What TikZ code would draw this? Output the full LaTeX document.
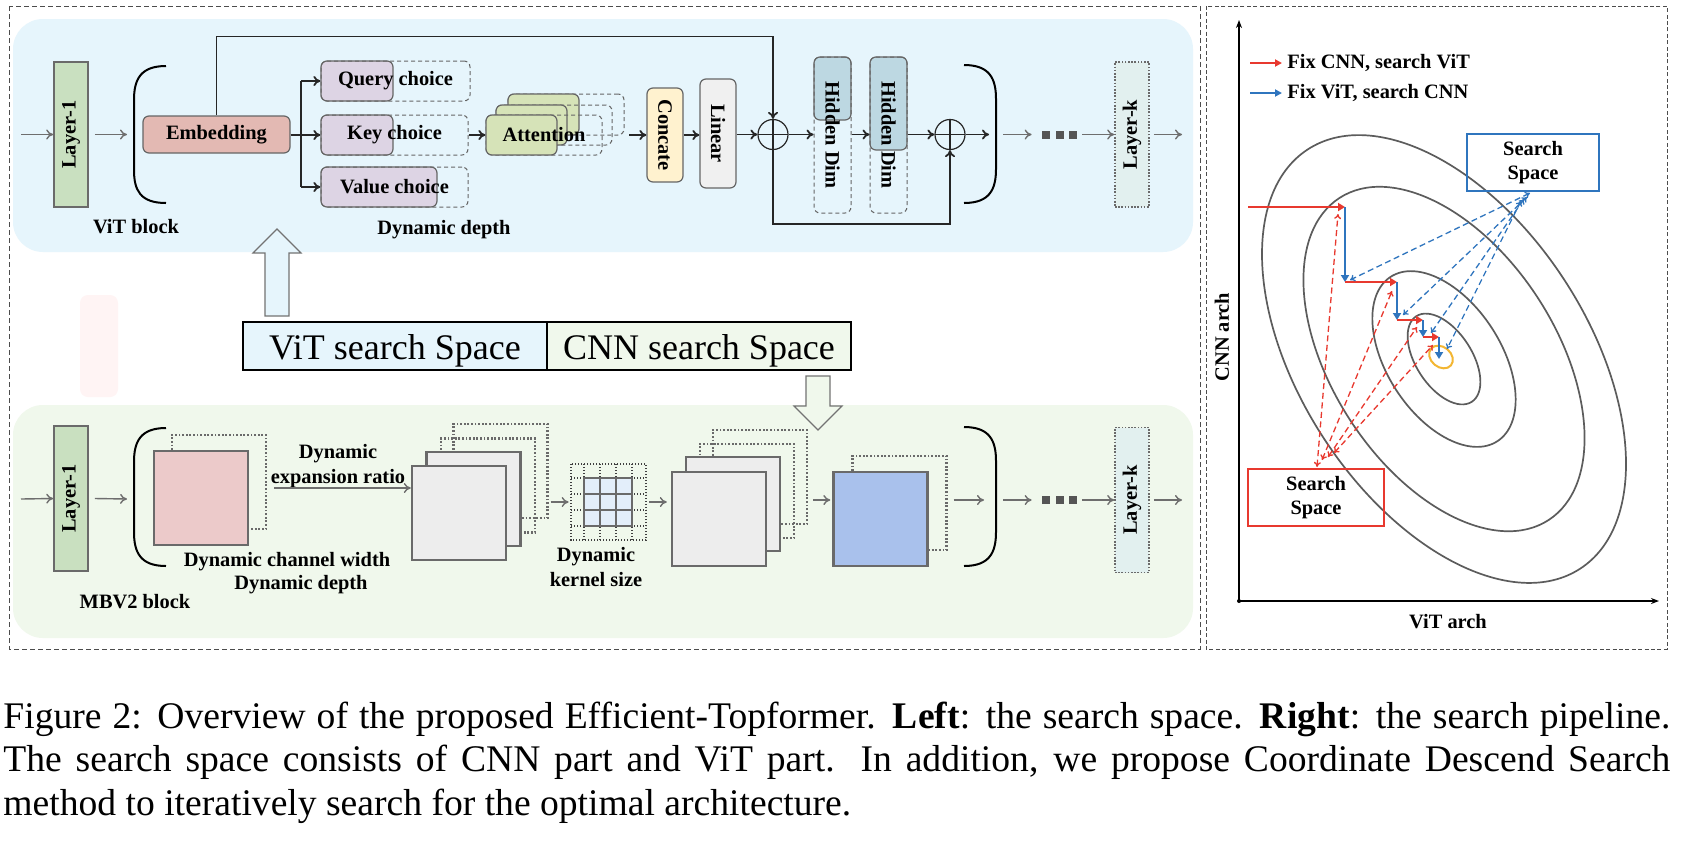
\documentclass[tikz,border=0pt]{standalone}
\usepackage{fontspec}
\setmainfont{Liberation Serif}
\usepackage{graphicx}
\usetikzlibrary{arrows.meta,calc}
\definecolor{vitbg}{HTML}{E6F5FC}
\definecolor{cnnbg}{HTML}{F0F8EC}
\definecolor{pinkbg}{HTML}{FFF4F4}
\definecolor{layergreen}{HTML}{C9E0C0}
\definecolor{embc}{HTML}{E3B9B3}
\definecolor{choicec}{HTML}{DDD4E4}
\definecolor{attc}{HTML}{D6E3B8}
\definecolor{concatc}{HTML}{FFF2CF}
\definecolor{linearc}{HTML}{F0F0F0}
\definecolor{hidc}{HTML}{BDD8E2}
\definecolor{layerk}{HTML}{E2F0EF}
\definecolor{pinksq}{HTML}{ECCACA}
\definecolor{graysq}{HTML}{EDEDED}
\definecolor{gridc}{HTML}{E3EEFA}
\definecolor{bluesq}{HTML}{A9C1EC}
\definecolor{arrgray}{HTML}{6E6E6E}
\definecolor{edgegray}{HTML}{6A6A6A}
\definecolor{dotgray}{HTML}{555555}
\definecolor{myred}{HTML}{E8392F}
\definecolor{myblue}{HTML}{2F75BE}
\definecolor{myorange}{HTML}{F3B632}
\definecolor{ellgray}{HTML}{5C5C5C}
\newcommand\lbf{\fontsize{10.2}{12.3}\selectfont\bfseries}
\newcommand\ssf{\fontsize{18}{20}\selectfont}
\newcommand\capf{\fontsize{18.8}{21.75}\selectfont}
\newcommand\threedots{\rule{4pt}{4pt}\hspace{2.75pt}\rule{4pt}{4pt}\hspace{2.75pt}\rule{4pt}{4pt}}
\begin{document}
\begin{tikzpicture}[x=0.5pt,y=-0.5pt,
  lbl/.style={font=\lbf, inner sep=0pt},
  garr/.style={draw=arrgray, line width=0.7pt, -{To[length=3.5pt,width=5pt]}},
  karr/.style={draw=black!85, line width=0.9pt, -{To[length=3.5pt,width=5pt]}},
  kline/.style={draw=black!85, line width=0.9pt},
  brk/.style={draw=black, line width=1pt},
  layerbox/.style={draw=edgegray, line width=0.8pt, inner sep=0pt, minimum width=17pt, minimum height=72.5pt, font=\lbf},
  rbox/.style={draw=black!60, line width=0.6pt, rounded corners=3pt, inner sep=0pt, font=\lbf},
  dbox/.style={draw=black!60, line width=0.5pt, dash pattern=on 2pt off 1.5pt, rounded corners=3pt, inner sep=0pt, font=\lbf},
  sq/.style={draw=edgegray, line width=1.2pt, inner sep=0pt, minimum width=47pt, minimum height=47pt},
  dsq/.style={draw=edgegray, line width=1.1pt, dash pattern=on 0.9pt off 0.9pt, inner sep=0pt, minimum width=47pt, minimum height=47pt},
  dgrid/.style={draw=black!75, line width=0.7pt, dash pattern=on 0.7pt off 0.8pt},
  oplus/.style={circle, draw=black!85, line width=0.6pt, minimum size=15pt, inner sep=0pt,
    path picture={\draw[line width=0.9pt] (path picture bounding box.north) -- (path picture bounding box.south) (path picture bounding box.west) -- (path picture bounding box.east);}},
  ssbox/.style={draw=black, line width=1.4pt, inner sep=0pt, minimum width=152pt, minimum height=24pt, font=\ssf, text height=13.9pt, text depth=0pt},
  hollow/.style={draw=black!55, line width=0.6pt},
  ell/.style={draw=ellgray, line width=0.85pt},
  stepr/.style={draw=myred, line width=1.3pt, -{Triangle[length=3.5pt,width=4pt]}},
  stepb/.style={draw=myblue, line width=1.3pt, -{Triangle[length=3.5pt,width=4pt]}},
  legr/.style={draw=myred, line width=1pt, -{Triangle[length=3.5pt,width=3.5pt]}},
  legb/.style={draw=myblue, line width=1pt, -{Triangle[length=3.5pt,width=3.5pt]}},
  dashr/.style={draw=myred, line width=0.65pt, dash pattern=on 3pt off 1.8pt, {To[length=2.5pt,width=3.5pt]}-{To[length=2.5pt,width=3.5pt]}},
  dashb/.style={draw=myblue, line width=0.65pt, dash pattern=on 3pt off 1.8pt, {To[length=2.5pt,width=3.5pt]}-{To[length=2.5pt,width=3.5pt]}},
  axisarr/.style={draw=black, line width=0.8pt, -{Stealth[length=4pt,width=3pt]}},
  ssred/.style={draw=myred, line width=1pt, minimum width=68pt, minimum height=28.5pt, align=center, font=\lbf, inner sep=0pt},
  ssblue/.style={draw=myblue, line width=1pt, minimum width=66pt, minimum height=28.5pt, align=center, font=\lbf, inner sep=0pt}
]
\useasboundingbox (0,0) rectangle (1682,842);
\fill[white] (0,0) rectangle (1682,842);
% ---------- panels and frames
\fill[vitbg, rounded corners=15pt] (13,19) rectangle (1193,252);
\fill[cnnbg, rounded corners=15pt] (13,405) rectangle (1193,638);
\fill[pinkbg, rounded corners=4pt] (80,295) rectangle (118,397);
\draw[black!70, line width=0.5pt, dash pattern=on 2.5pt off 1.5pt] (9,6) rectangle (1200,649);
\draw[black!70, line width=0.5pt, dash pattern=on 2pt off 1.2pt] (1206,6) rectangle (1667,649);

% ================= ViT row =================
\node[layerbox, fill=layergreen] (L1t) at (71,134.5) {\rotatebox{90}{Layer-1}};
\coordinate (int) at (21,134.5);
\coordinate (lb1) at (127,134.5);
\draw[garr] (int) -- (L1t.west);
\draw[garr] ([xshift=3pt]L1t.east) -- (lb1);
\draw[brk] (166,66) .. controls (140,66) and (134,80) .. (134,100) -- (134,170) .. controls (134,190) and (140,203) .. (166,203);
\node[rbox, fill=embc, minimum width=73.5pt, minimum height=18.5pt] (emb) at (216.5,134.5) {Embedding};

\node[rbox, fill=choicec, minimum width=36pt, minimum height=20pt] (qs) at (357,81) {};
\node[dbox, minimum width=74.5pt, minimum height=20pt] (qd) at (395.5,81) {Query choice};
\node[rbox, fill=choicec, minimum width=36pt, minimum height=20pt] (ks) at (357,135) {};
\node[dbox, minimum width=73.5pt, minimum height=20pt] (kd) at (394.5,135) {Key choice};
\node[rbox, fill=choicec, minimum width=58pt, minimum height=20pt] (vs) at (379,187) {};
\node[dbox, minimum width=73.5pt, minimum height=20pt] (vd) at (394.5,187) {Value choice};
\coordinate (br) at (301,135);
\draw[kline] (emb.east |- br) -- (br);
\draw[kline] (br |- qs.west) -- (br |- vs.west);
\draw[karr] (br |- qs.west) -- (qs.west);
\draw[karr] (br) -- (ks.west);
\draw[karr] (br |- vs.west) -- (vs.west);

\node[dbox, minimum width=58pt, minimum height=20.5pt] (attbd) at (566,114.5) {};
\node[rbox, fill=attc, minimum width=35.5pt, minimum height=20.5pt] (attbs) at (543.5,114.5) {};
\node[dbox, minimum width=58pt, minimum height=20pt] (attmd) at (554,125) {};
\node[rbox, fill=attc, minimum width=35.5pt, minimum height=20pt] (attms) at (531.5,125) {};
\node[dbox, minimum width=58pt, minimum height=20pt] (attfd) at (544,135) {};
\node[rbox, fill=attc, minimum width=35.5pt, minimum height=20pt] (attfs) at (521.5,135) {};
\node[lbl] (atttxt) at (attfd.center) {Attention};
\draw[karr] (kd.east) -- (attfs.west);

\node[rbox, fill=concatc, minimum width=18pt, minimum height=47pt] (cc) at (665,135) {\rotatebox{-90}{Concate}};
\node[rbox, fill=linearc, minimum width=18pt, minimum height=54.5pt] (lin) at (718,133.5) {\rotatebox{-90}{Linear}};
\coordinate (attout) at (629,135);
\draw[karr] (attout) -- (cc.west);
\draw[karr] (cc.east) -- (cc.east -| lin.west);
\node[oplus] (p1) at (773,134.5) {};
\draw[karr] (lin.east |- p1.west) -- (p1.west);
\draw[karr] (emb.north) -- ++(0,-79) -| (p1.north);

\node[rbox, fill=hidc, minimum width=18.5pt, minimum height=31.5pt] (h1s) at (832.5,88.5) {};
\node[dbox, minimum width=18.5pt, minimum height=78pt] (h1d) at (832.5,135) {\rotatebox{-90}{Hidden Dim}};
\node[rbox, fill=hidc, minimum width=18.5pt, minimum height=46.5pt] (h2s) at (888.5,103.5) {};
\node[dbox, minimum width=18.5pt, minimum height=78pt] (h2d) at (888.5,135) {\rotatebox{-90}{Hidden Dim}};
\node[oplus] (p2) at (950,134.5) {};
\draw[karr] (p1.east) -- (p1.east -| h1d.west);
\draw[karr] (h1d.east |- p1.east) -- (h2d.west |- p1.east);
\draw[karr] (h2d.east |- p2.west) -- (p2.west);
\coordinate (vout) at (989,134.5);
\draw[karr] (p2.east) -- (vout);
\draw[karr] (p1.south) -- ++(0,74) -| (p2.south);
\draw[brk] (964,65) .. controls (990,65) and (996,79) .. (996,99) -- (996,169) .. controls (996,189) and (990,203) .. (964,203);

\coordinate (o1) at (1003,134.5);
\node[inner sep=0pt, text=dotgray] (dt) at (1059.5,134.5) {\threedots};
\node[layerbox, fill=layerk, dash pattern=on 0.8pt off 0.8pt] (Lkt) at (1132,134.5) {\rotatebox{90}{Layer-k}};
\coordinate (outt) at (1182,134.5);
\draw[garr] (o1) -- ([xshift=-5pt]dt.west);
\draw[garr] ([xshift=2.5pt]dt.east) -- (Lkt.west);
\draw[garr] ([xshift=2pt]Lkt.east) -- (outt);

\node[lbl] (vitblk) at (136,227) {ViT block};
\node[lbl] (dyndep) at (444,230) {Dynamic depth};

% ================= hollow arrows and search space =================
\draw[hollow, fill=vitbg] (265,316) -- (265,253) -- (253,253) -- (277,229) -- (301,253) -- (289,253) -- (289,316) -- cycle;
\draw[hollow, fill=cnnbg] (806,376) -- (830,376) -- (830,406) -- (842,406) -- (818,430) -- (794,406) -- (806,406) -- cycle;
\node[ssbox, fill=vitbg] (vss) at (395,346) {ViT search Space};
\node[ssbox, fill=cnnbg] (css) at (699,346) {CNN search Space};

% ================= CNN row =================
\node[layerbox, fill=layergreen] (L1b) at (71,498.5) {\rotatebox{90}{Layer-1}};
\coordinate (inb) at (21,499);
\coordinate (lb2) at (127,499);
\draw[garr] (inb) -- (L1b.west);
\draw[garr] ([xshift=3pt]L1b.east) -- (lb2);
\draw[brk] (166,428) .. controls (140,428) and (134,442) .. (134,462) -- (134,532) .. controls (134,552) and (140,566) .. (166,566);

\node[dsq] (pinkd) at (219,482) {};
\node[sq, fill=pinksq] (pink) at (201,498) {};
\node[lbl, align=center] (dexp) at (338,466) {Dynamic\\expansion ratio};

\node[dsq] (s1d2) at (500.5,471) {};
\node[dsq] (s1d1) at (488,485.5) {};
\node[sq, fill=graysq] (s1b) at (473.5,499) {};
\node[sq, fill=graysq] (s1f) at (459,513) {};
\draw[garr] ([xshift=3.5pt,yshift=-3pt]pinkd.east) -- ([yshift=-3pt]pinkd.east -| s1f.west);

% kernel grid
\node[inner sep=0pt, minimum width=37.5pt, minimum height=38pt] (kernd) at (608.5,502) {};
\draw[dgrid] (571,464) rectangle (646,540);
\foreach \gx in {584,600,616,632} \draw[dgrid] (\gx,464) -- (\gx,540);
\foreach \gy in {478,494,510,526} \draw[dgrid] (571,\gy) -- (646,\gy);
\node[draw=edgegray, line width=1.2pt, fill=gridc, minimum size=24pt, inner sep=0pt] (kern) at (608,502) {};
\draw[edgegray, line width=1.2pt] (600,478) -- (600,526) (616,478) -- (616,526) (584,494) -- (632,494) (584,510) -- (632,510);
\draw[garr] ([xshift=1pt]s1d2.east |- kernd.west) -- ([xshift=-1pt]kernd.west);
\node[lbl, align=center] (dks) at (596,567) {Dynamic\\kernel size};

\node[dsq] (s2d2) at (760,477) {};
\node[dsq] (s2d1) at (747,491) {};
\node[sq, fill=graysq] (s2b) at (733,504) {};
\node[sq, fill=graysq] (s2f) at (719,519) {};
\draw[garr] ([xshift=1.5pt]kernd.east) -- ([xshift=-2pt]kernd.east -| s2f.west);

\node[dsq] (blued) at (899.5,503) {};
\node[sq, fill=bluesq] (bsq) at (880.5,519) {};
\coordinate (rowb) at (0,500);
\draw[garr] ([xshift=2.5pt]s2d2.east |- rowb) -- ([xshift=-1pt]bsq.west |- rowb);
\coordinate (bend) at (984,500);
\draw[garr] ([xshift=3pt]blued.east |- rowb) -- (bend);
\draw[brk] (964,427) .. controls (990,427) and (996,441) .. (996,461) -- (996,532) .. controls (996,552) and (990,566) .. (964,566);

\coordinate (o2) at (1003,500);
\node[inner sep=0pt, text=dotgray] (db) at (1059.5,500) {\threedots};
\node[layerbox, fill=layerk, dash pattern=on 0.8pt off 0.8pt] (Lkb) at (1132,500) {\rotatebox{90}{Layer-k}};
\coordinate (outb) at (1182,500);
\draw[garr] (o2) -- ([xshift=-5pt]db.west);
\draw[garr] ([xshift=2.5pt]db.east) -- (Lkb.west);
\draw[garr] ([xshift=2pt]Lkb.east) -- (outb);

\node[lbl] (dcw) at (287,562) {Dynamic channel width};
\node[lbl] (ddb) at (301,585) {Dynamic depth};
\node[lbl] (mbv) at (135,602) {MBV2 block};

% ================= right panel =================
\coordinate (org) at (1239,601);
\coordinate (ytop) at (1239,20);
\coordinate (xend) at (1659,601);
\draw[axisarr] (org) -- (ytop);
\draw[axisarr] (org) -- (xend);
\fill (org) circle (1pt);
\node[lbl, rotate=90] (cnnarch) at (1222,337) {CNN arch};
\node[lbl] (vitarch) at (1448,622) {ViT arch};

\coordinate (lg1a) at (1250,63);
\coordinate (lg1b) at (1282,63);
\coordinate (lg2a) at (1250,93);
\coordinate (lg2b) at (1282,93);
\draw[legr] (lg1a) -- (lg1b);
\draw[legb] (lg2a) -- (lg2b);
\node[lbl, anchor=west] (lgt1) at (1287,63) {Fix CNN, search ViT};
\node[lbl, anchor=west] (lgt2) at (1287,93) {Fix ViT, search CNN};

\coordinate (ec) at (1444,359);
\foreach \ea/\eb in {250/144,192/112,98/57,51/28}
  \draw[ell, rotate around={-57:(ec)}] (ec) ellipse [x radius=\ea*0.5pt, y radius=\eb*0.5pt];
\coordinate (yc) at (1441,357);
\draw[myorange, line width=1pt, rotate around={-40:(yc)}] (yc) ellipse [x radius=6.5pt, y radius=5pt];

\node[ssblue] (bss) at (1533,162.5) {Search\\Space};
\node[ssred] (rss) at (1316,497.5) {Search\\Space};

% staircase
\coordinate (s0) at (1248,207);
\coordinate (s1) at (1345,207);
\coordinate (s2) at (1345,282);
\coordinate (s3) at (1397,282);
\coordinate (s4) at (1397,320);
\coordinate (s5) at (1423,320);
\coordinate (s6) at (1423,337);
\coordinate (s7) at (1439,337);
\coordinate (s8) at (1439,359);
\draw[stepr] (s0) -- (s1);
\draw[stepb] (s1) -- (s2);
\draw[stepr] (s2) -- (s3);
\draw[stepb] (s3) -- (s4);
\draw[stepr] (s4) -- (s5);
\draw[stepb] (s5) -- (s6);
\draw[stepr] (s6) -- (s7);
\draw[stepb] (s7) -- (s8);

% red dashed search links
\coordinate (u1) at (1317,467);
\coordinate (u2) at (1322,460);
\coordinate (u3) at (1328,457);
\coordinate (u4) at (1334,453);
\coordinate (t1) at (1338,214);
\coordinate (t2) at (1392,291);
\coordinate (t3) at (1417,327);
\coordinate (t4) at (1433,345);
\draw[dashr] (u1) -- (t1);
\draw[dashr] (u2) -- (t2);
\draw[dashr] (u3) -- (t3);
\draw[dashr] (u4) -- (t4);
% blue dashed search links
\coordinate (w1) at (1530,193);
\coordinate (w2) at (1527,197);
\coordinate (w3) at (1524,199);
\coordinate (w4) at (1521,201);
\coordinate (v1) at (1350,280);
\coordinate (v2) at (1403,315);
\coordinate (v3) at (1431,333);
\coordinate (v4) at (1447,349);
\draw[dashb] (w1) -- (v1);
\draw[dashb] (w2) -- (v2);
\draw[dashb] (w3) -- (v3);
\draw[dashb] (w4) -- (v4);

% ================= caption =================
\node[anchor=base west, inner sep=0pt, text width=833.5pt, align=justify, font=\capf] (cap) at (3,728)
 {Figure 2: Overview of the proposed Efficient-Topformer. \textbf{Left}: the search space. \textbf{Right}: the search pipeline.\linebreak
  The search space consists of CNN part and ViT part.  In addition, we propose Coordinate Descend Search\linebreak
  method to iteratively search for the optimal architecture.};
\end{tikzpicture}
\end{document}
